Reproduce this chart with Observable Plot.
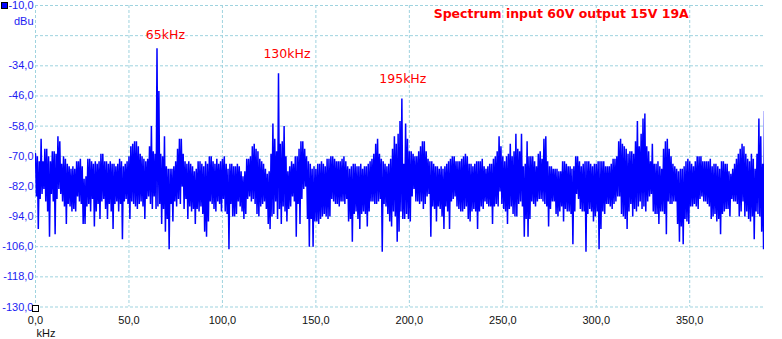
<!DOCTYPE html>
<html><head><meta charset="utf-8">
<script src="https://cdn.jsdelivr.net/npm/d3@7"></script>
<script src="https://cdn.jsdelivr.net/npm/@observablehq/plot@0.6"></script>
<style>
body{margin:0;background:#fff;}
#wrap{position:relative;width:782px;height:339px;overflow:hidden;background:#fff;}
.mk{position:absolute;box-sizing:border-box;border:1px solid #000;width:7px;height:7px;}
</style></head><body><div id="wrap"></div>
<script>
// Spectrum read per 1 kHz bin (0..390 kHz): upper and lower envelope, dBu
const hiDb = [
-69,-70,-72,-63,-72,-67,-67,-70,-72,-68,
-68,-69,-62,-64,-73,-70,-71,-73,-74,-75,
-74,-75,-72,-72,-71,-74,-79,-78,-71,-71,
-72,-73,-72,-73,-72,-69,-69,-72,-72,-73,
-72,-73,-73,-74,-73,-71,-72,-74,-73,-72,
-70,-66,-65,-64,-64,-66,-69,-70,-71,-72,
-71,-66,-58,-68,-69,-27,-44,-69,-70,-62,
-74,-75,-75,-75,-74,-72,-67,-63,-63,-69,
-72,-73,-72,-73,-74,-76,-75,-72,-72,-73,
-74,-72,-73,-70,-70,-72,-73,-71,-73,-72,
-71,-70,-73,-75,-73,-73,-74,-74,-73,-74,
-76,-78,-76,-71,-71,-70,-66,-65,-67,-68,
-71,-72,-73,-75,-77,-76,-69,-57,-63,-68,
-37,-65,-64,-58,-70,-76,-74,-72,-73,-70,
-70,-67,-64,-64,-67,-70,-72,-73,-75,-74,
-75,-73,-73,-72,-73,-74,-71,-71,-70,-70,
-71,-72,-72,-72,-71,-70,-72,-74,-75,-74,
-73,-73,-74,-74,-73,-75,-74,-74,-73,-72,
-71,-69,-65,-63,-69,-71,-72,-73,-74,-73,
-71,-67,-62,-65,-61,-56,-47,-73,-57,-63,
-68,-68,-69,-70,-70,-68,-66,-64,-64,-68,
-71,-72,-72,-73,-74,-74,-75,-74,-75,-74,
-73,-72,-71,-70,-70,-72,-72,-72,-71,-70,
-69,-70,-73,-73,-74,-73,-72,-72,-72,-71,
-74,-75,-74,-73,-73,-71,-70,-68,-62,-66,
-70,-72,-70,-69,-65,-70,-68,-61,-67,-68,
-61,-74,-73,-64,-70,-70,-70,-72,-74,-69,
-68,-71,-63,-62,-72,-74,-74,-75,-75,-75,
-76,-76,-72,-72,-73,-74,-74,-75,-74,-70,
-70,-72,-74,-73,-72,-72,-72,-73,-74,-73,
-73,-72,-72,-72,-72,-74,-74,-74,-73,-71,
-71,-70,-64,-63,-65,-66,-67,-69,-68,-68,
-69,-64,-56,-66,-61,-55,-53,-66,-68,-72,
-65,-73,-73,-72,-74,-75,-67,-64,-63,-67,
-70,-73,-74,-75,-76,-75,-75,-74,-72,-71,
-72,-73,-74,-72,-70,-70,-70,-72,-72,-72,
-72,-71,-74,-73,-73,-74,-75,-72,-72,-73,
-73,-76,-77,-75,-73,-71,-69,-67,-65,-66,
-69,-71,-72,-69,-71,-75,-69,-55,-62,-73,
-52];
const loDb = [
-86,-99,-87,-85,-83,-88,-92,-102,-85,-88,
-101,-87,-83,-85,-88,-90,-97,-89,-90,-92,
-91,-92,-86,-88,-89,-97,-97,-90,-89,-92,
-87,-98,-92,-89,-95,-88,-87,-91,-95,-89,
-92,-99,-89,-88,-92,-89,-103,-88,-87,-89,
-95,-88,-89,-90,-91,-89,-88,-90,-95,-87,
-86,-89,-91,-86,-91,-90,-89,-97,-91,-100,
-95,-107,-89,-96,-88,-90,-87,-89,-82,-91,
-87,-95,-90,-92,-91,-97,-91,-92,-90,-93,
-100,-102,-96,-88,-89,-91,-92,-88,-89,-92,
-87,-92,-93,-107,-89,-94,-94,-93,-88,-90,
-92,-95,-93,-87,-86,-88,-87,-89,-93,-94,
-90,-89,-88,-91,-97,-99,-94,-93,-88,-95,
-91,-97,-90,-92,-96,-91,-90,-86,-88,-102,
-89,-97,-87,-83,-82,-95,-106,-95,-106,-96,
-96,-97,-95,-94,-93,-94,-95,-94,-87,-88,
-89,-89,-90,-88,-88,-89,-87,-96,-95,-104,
-93,-92,-95,-99,-93,-92,-93,-98,-92,-88,
-88,-89,-89,-88,-87,-108,-89,-90,-93,-96,
-98,-92,-94,-104,-100,-92,-95,-95,-93,-95,
-96,-86,-83,-88,-88,-89,-88,-91,-89,-86,
-85,-102,-90,-91,-96,-90,-91,-94,-99,-90,
-92,-99,-88,-87,-86,-90,-91,-92,-92,-91,
-90,-95,-96,-92,-91,-92,-99,-92,-90,-91,
-88,-89,-90,-90,-97,-90,-89,-90,-84,-89,
-91,-92,-97,-91,-90,-93,-94,-94,-89,-88,
-90,-102,-95,-102,-95,-88,-89,-90,-88,-87,
-87,-88,-89,-90,-98,-91,-88,-88,-93,-94,
-92,-90,-96,-91,-92,-92,-93,-105,-92,-85,
-87,-91,-92,-92,-108,-93,-91,-92,-96,-94,
-92,-107,-99,-92,-93,-89,-89,-90,-91,-89,
-88,-86,-86,-93,-94,-95,-99,-92,-89,-94,
-91,-92,-90,-88,-91,-90,-92,-88,-86,-85,
-92,-93,-93,-97,-92,-92,-93,-101,-88,-89,
-89,-88,-88,-97,-104,-98,-105,-95,-96,-97,
-90,-90,-89,-90,-91,-87,-86,-88,-88,-89,
-90,-95,-94,-93,-96,-95,-101,-93,-92,-91,
-91,-94,-87,-88,-88,-89,-94,-92,-88,-94,
-92,-95,-96,-94,-103,-92,-93,-94,-100,-107,
-93];
const peakLabels = ["65kHz", "130kHz", "195kHz"];
const peakLabelKHz = [69.5, 134.5, 196.5];
const peakLabelDb = [-21.8, -29.2, -39.3];
const xTicks = [0, 50, 100, 150, 200, 250, 300, 350];
const yTicks = [-10, -22, -34, -46, -58, -70, -82, -94, -106, -118, -130];
const yTickLabels = ["-10,0", "dBu", "-34,0", "-46,0", "-58,0", "-70,0", "-82,0", "-94,0", "-106,0", "-118,0", "-130,0"];
const xTickLabels = ["0,0", "50,0", "100,0", "150,0", "200,0", "250,0", "300,0", "350,0"];
const xUnit = "kHz";
const title = "Spectrum input 60V output 15V 19A";

const pts = [];
hiDb.forEach((h, i) => { pts.push({f: i, db: h}); pts.push({f: i + 0.5, db: loDb[i]}); });

const gridStyle = {stroke: "#9fd3df", strokeOpacity: 1, strokeDasharray: "3,2", strokeWidth: 1};
const chart = Plot.plot({
  width: 782, height: 339,
  marginLeft: 35, marginRight: 18, marginTop: 5, marginBottom: 32.5,
  style: {fontFamily: "'Liberation Sans', Arial, sans-serif", fontSize: "11px", background: "transparent", overflow: "visible"},
  x: {domain: [0, 390]},
  y: {domain: [-130, -10]},
  marks: [
    Plot.gridX(xTicks, gridStyle),
    Plot.gridY(yTicks, gridStyle),
    Plot.line(pts, {x: "f", y: "db", stroke: "#0000ff", strokeWidth: 1.5, strokeLinejoin: "miter", strokeMiterlimit: 1, clip: true}),
    Plot.axisY(yTicks.filter(d => d !== -22), {tickSize: 0, tickPadding: 2, label: null,
      tickFormat: d => yTickLabels[yTicks.indexOf(d)], color: "#1c1cf2"}),
    Plot.text([yTickLabels[1]], {frameAnchor: "top-left", dx: -2, dy: 19, textAnchor: "end", lineAnchor: "bottom", fill: "#1c1cf2"}),
    Plot.axisX(xTicks, {tickSize: 0, tickPadding: 9, label: null,
      tickFormat: d => xTickLabels[xTicks.indexOf(d)], color: "#111"}),
    Plot.text([xUnit], {frameAnchor: "bottom-left", dx: 1, dy: 29.5, textAnchor: "start", lineAnchor: "bottom", fill: "#111"}),
    Plot.text(peakLabels, {x: (d, i) => peakLabelKHz[i], y: (d, i) => peakLabelDb[i], text: d => d,
      fill: "#ff0000", fontFamily: "'DejaVu Sans', sans-serif", fontSize: 12.5}),
    Plot.text([title], {frameAnchor: "top-right", dx: -75.7, dy: 12, textAnchor: "end", lineAnchor: "bottom",
      fill: "#ff0000", fontWeight: "bold", fontFamily: "'DejaVu Sans', sans-serif", fontSize: 12.5})
  ]
});
const wrap = document.getElementById("wrap");
wrap.appendChild(chart);
const leg = document.createElement("div");
leg.className = "mk"; leg.style.left = "1px"; leg.style.top = "2px"; leg.style.background = "#0000ff";
wrap.appendChild(leg);
const org = document.createElement("div");
org.className = "mk"; org.style.left = "32px"; org.style.top = "305px"; org.style.background = "#fff";
wrap.appendChild(org);
</script></body></html>
